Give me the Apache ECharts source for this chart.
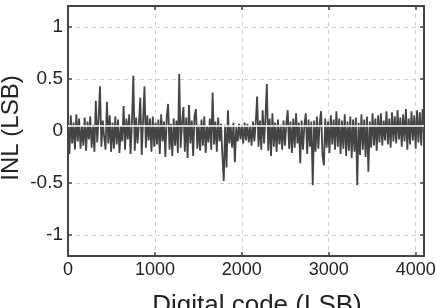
<!DOCTYPE html>
<html>
<head>
<meta charset="utf-8">
<script src="https://cdn.jsdelivr.net/npm/echarts@6/dist/echarts.min.js"></script>
<style>
  html, body { margin: 0; padding: 0; background: #fff; }
  #chart { width: 436px; height: 308px; }
</style>
</head>
<body>
<div id="chart"></div>
<script>
// INL, one value every 16 codes (0 .. 4080)
const codeStep = 16;
const inl = [
  0.10, -0.22, 0.15, -0.12, 0.08, -0.18, 0.16, -0.10, 0.12, -0.17, 0.05, -0.14, 0.13, -0.19, 0.09, -0.08,
  0.14, -0.16, 0.06, -0.20, 0.29, -0.11, 0.12, 0.43, -0.15, 0.10, -0.06, -0.18, 0.28, -0.12, 0.15, -0.20,
  0.08, -0.17, 0.14, -0.13, 0.11, -0.21, 0.05, -0.10, 0.24, -0.18, 0.12, -0.08, 0.16, -0.22, 0.09, 0.53,
  -0.19, 0.13, -0.12, 0.07, 0.32, -0.23, 0.10, 0.43, -0.16, 0.15, -0.09, 0.12, -0.20, 0.14, -0.15, 0.08,
  -0.13, 0.11, -0.22, 0.16, -0.10, 0.09, -0.25, 0.14, 0.26, -0.18, 0.07, -0.24, 0.12, -0.14, 0.10, -0.21,
  0.55, -0.16, 0.08, 0.23, -0.20, 0.13, -0.26, 0.25, -0.12, 0.10, -0.24, 0.15, 0.21, -0.17, 0.06, -0.19,
  0.11, -0.14, 0.14, -0.21, 0.05, -0.11, 0.12, -0.18, 0.37, -0.13, 0.09, -0.20, 0.13, -0.10, 0.07, -0.23,
  -0.48, 0.06, -0.35, 0.20, -0.12, 0.05, -0.16, 0.08, -0.30, 0.04, -0.10, 0.07, -0.08, 0.06, -0.12, 0.08,
  -0.09, 0.07, -0.11, 0.05, -0.14, 0.09, -0.10, 0.08, 0.33, -0.15, 0.10, -0.18, 0.20, -0.12, 0.13, 0.45,
  -0.19, 0.12, -0.24, 0.17, -0.15, 0.08, -0.20, 0.11, -0.13, 0.06, -0.18, 0.10, -0.14, 0.07, 0.20, -0.17,
  0.09, -0.21, 0.12, -0.16, 0.17, -0.12, 0.08, -0.31, 0.10, -0.18, 0.06, 0.17, -0.22, 0.11, -0.15, 0.09,
  -0.52, 0.10, -0.20, 0.14, -0.17, 0.08, 0.19, -0.23, -0.33, 0.12, -0.16, 0.09, -0.21, 0.15, -0.13, 0.11,
  -0.18, 0.19, -0.15, 0.12, -0.22, 0.10, -0.17, 0.16, -0.24, 0.09, -0.19, 0.14, -0.26, 0.11, -0.20, 0.13,
  -0.52, 0.08, -0.23, 0.16, -0.18, 0.11, -0.25, 0.14, -0.39, 0.09, -0.16, 0.17, -0.14, 0.12, -0.19, 0.15,
  -0.11, 0.17, -0.14, 0.10, -0.09, 0.19, -0.13, 0.12, -0.16, 0.18, -0.10, 0.14, -0.12, 0.20, -0.08, 0.13,
  -0.15, 0.16, -0.10, 0.21, -0.18, 0.12, -0.13, 0.19, -0.09, 0.15, -0.17, 0.20, -0.11, 0.18, -0.14, 0.21
];
const xRange = [0, 4096];
const yRange = [-1.2, 1.2];
const whiteLineAt = 0.05;

const font = 'Liberation Sans';
const axisColor = '#444';

let points = inl.map((v, i) => [i * codeStep, v]);

let chart = echarts.init(document.getElementById('chart'));
let frameAxis = {
    axisLine: { show: true, onZero: false, lineStyle: { color: axisColor, width: 2 } },
    axisTick: { show: true, inside: true, length: 4, lineStyle: { color: axisColor, width: 1.5 } },
    splitLine: { show: false },
    axisLabel: { show: false }
};
let option = {
    animation: false,
    backgroundColor: '#fff',
    grid: { left: 68, right: 12, top: 6, bottom: 52, outerBoundsMode: 'none', containLabel: false },
    xAxis: [
        {
            type: 'value',
            min: xRange[0],
            max: xRange[1],
            splitNumber: 5,
            position: 'bottom',
            name: 'Digital code (LSB)',
            nameLocation: 'middle',
            nameGap: 37,
            nameTextStyle: { fontFamily: font, fontSize: 26, color: '#222', padding: [0, 0, 0, 22] },
            axisLine: { show: true, onZero: false, lineStyle: { color: axisColor, width: 2 } },
            axisTick: { show: true, inside: true, length: 4, lineStyle: { color: axisColor, width: 1.5 } },
            axisLabel: {
                fontFamily: font, fontSize: 18, color: '#222', margin: 5, showMaxLabel: false,
                formatter: v => String(v)
            },
            splitLine: { show: true, lineStyle: { color: '#cfcfcf', type: [4, 4], width: 1 } }
        },
        Object.assign({ type: 'value', min: xRange[0], max: xRange[1], splitNumber: 5, position: 'top' }, frameAxis)
    ],
    yAxis: [
        {
            type: 'value',
            min: yRange[0],
            max: yRange[1],
            splitNumber: 5,
            position: 'left',
            name: 'INL (LSB)',
            nameLocation: 'middle',
            nameGap: 45,
            nameMoveOverlap: false,
            nameTextStyle: { fontFamily: font, fontSize: 24, color: '#222', padding: [0, 0, 0, 6] },
            axisLine: { show: true, onZero: false, lineStyle: { color: axisColor, width: 2 } },
            axisTick: { show: true, inside: true, length: 4, lineStyle: { color: axisColor, width: 1.5 } },
            axisLabel: { fontFamily: font, fontSize: 19, color: '#222', margin: 5, showMinLabel: false, showMaxLabel: false },
            splitLine: { show: true, lineStyle: { color: '#cfcfcf', type: [4, 4], width: 1 } }
        },
        Object.assign({ type: 'value', min: yRange[0], max: yRange[1], splitNumber: 5, position: 'right' }, frameAxis)
    ],
    series: [
        {
            type: 'line',
            data: points,
            step: 'end',
            showSymbol: false,
            lineStyle: { color: '#444', width: 1.8 },
            markLine: {
                silent: true,
                symbol: 'none',
                label: { show: false },
                lineStyle: { color: '#fff', width: 1.5, type: 'solid' },
                data: [{ yAxis: whiteLineAt }]
            }
        }
    ]
};
chart.setOption(option);
</script>
</body>
</html>
